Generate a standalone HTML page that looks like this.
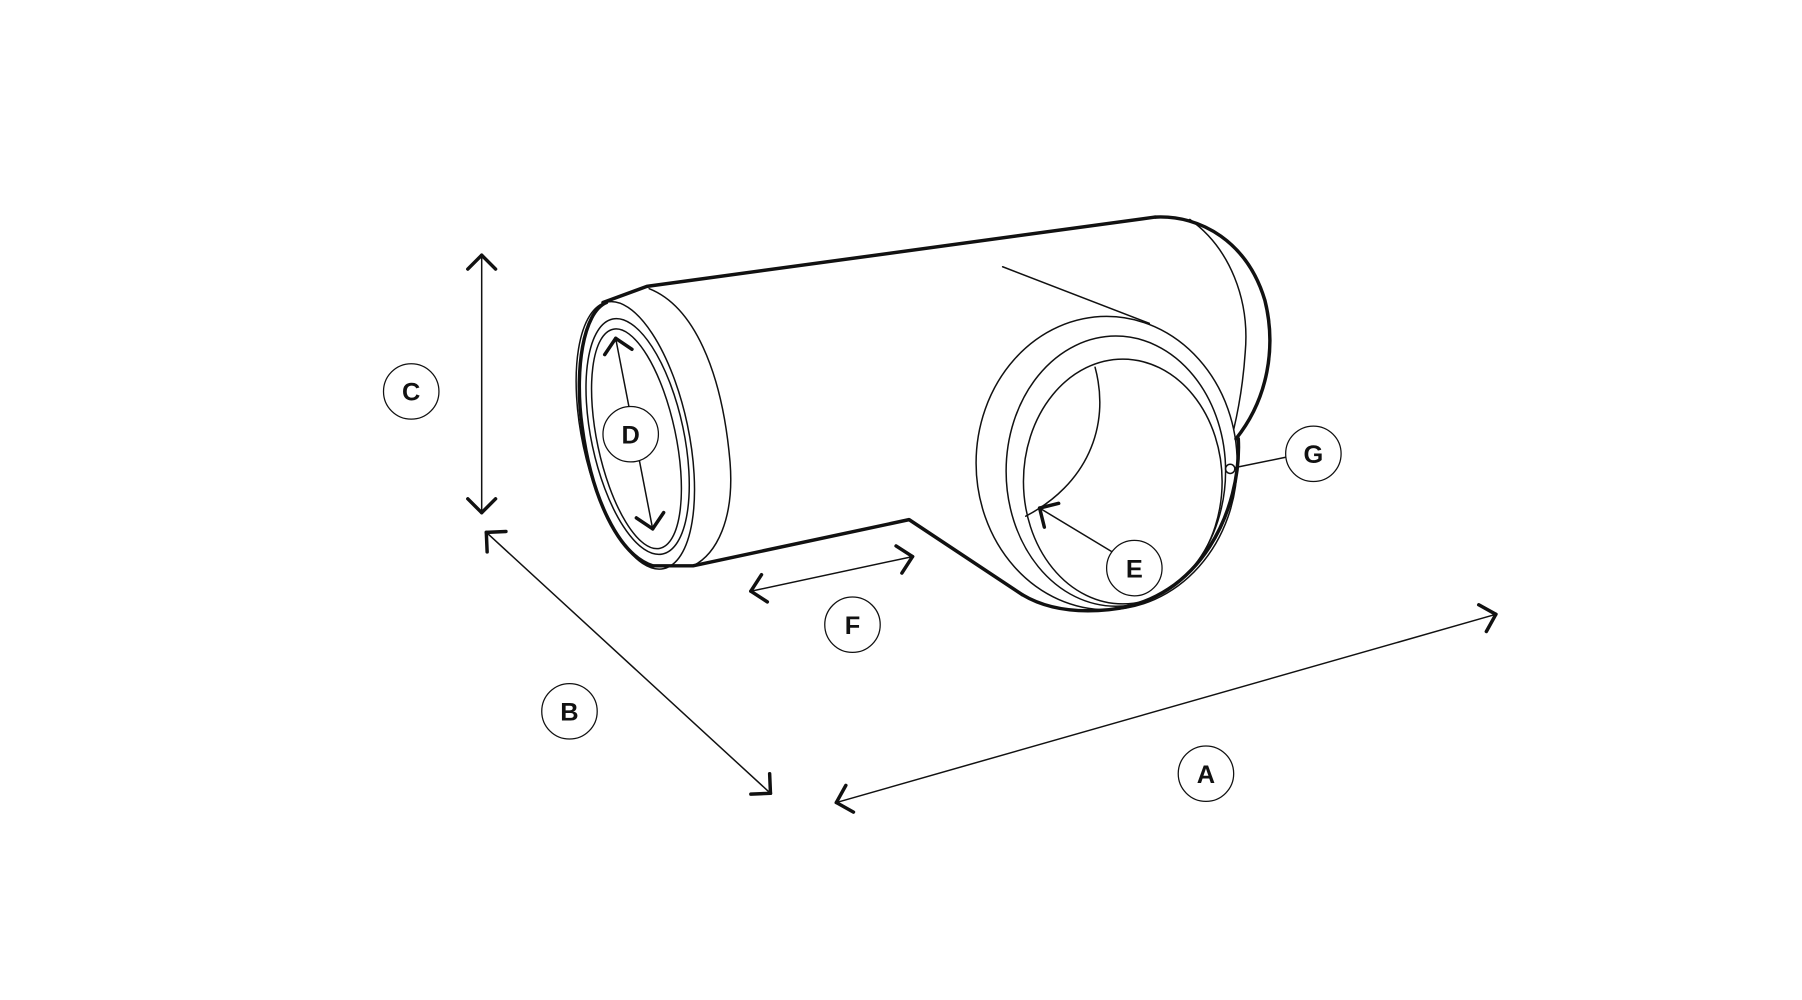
<!DOCTYPE html>
<html><head><meta charset="utf-8"><style>
html,body{margin:0;padding:0;background:#fff;width:1802px;height:1000px;overflow:hidden}
svg{display:block}
text{font-family:"Liberation Sans",sans-serif;font-weight:bold;font-size:22px;text-anchor:middle;dominant-baseline:central;fill:#111}
</style></head><body>
<svg id="s" width="1802" height="1000" viewBox="0 0 1560 866" preserveAspectRatio="none" fill="none" stroke="#111" stroke-linecap="round" stroke-linejoin="round">
<path d="M1000,188 C1040,186 1080,210 1095,260 C1105,300 1098,345 1070,380" stroke-width="3"/>
<path d="M1030,190 C1065,215 1082,260 1078,305 C1076,335 1072,355 1068,372" stroke-width="1.3"/>
<path d="M522,262 L560,248 L1000,188" stroke-width="3"/>
<path d="M565,490 L600,490 L787,450 L885,515" stroke-width="3"/>
<path d="M868,231 L995,280" stroke-width="1.3"/>
<path d="M562,250 C600,265 625,320 632,400 C636,450 620,480 600,490" stroke-width="1.3"/>
<ellipse cx="550" cy="377" rx="46" ry="118" transform="rotate(-12 550 377)" stroke-width="1.3"/>
<path d="M525,262 C505,270 497,320 504,370 C512,430 535,480 565,490" stroke-width="3"/>
<ellipse cx="552" cy="378" rx="40" ry="104" transform="rotate(-12 552 378)" stroke-width="1.3"/>
<ellipse cx="551" cy="380" rx="34" ry="97" transform="rotate(-12 551 380)" stroke-width="1.3"/>
<path d="M885,515 C910,530 940,530 960,528 C1040,520 1075,440 1072,380" stroke-width="3"/>
<ellipse cx="958" cy="401" rx="113" ry="127" stroke-width="1.3"/>
<ellipse cx="966" cy="408" rx="95" ry="117" stroke-width="1.3"/>
<ellipse cx="972" cy="417" rx="86" ry="106" stroke-width="1.3"/>
<path d="M948,318 C962,370 940,420 888,447" stroke-width="1.3"/>
<g id="dims" stroke-width="1.3"></g>
<line x1="1069" y1="405" x2="1113" y2="396" stroke-width="1.3"/>
<circle cx="1065" cy="406" r="4" fill="#fff" stroke-width="1.3"/>
<g fill="#fff" stroke-width="1.1">
<circle cx="356" cy="339" r="24"/><circle cx="493" cy="616" r="24"/><circle cx="1044" cy="670" r="24"/>
<circle cx="738" cy="541" r="24"/><circle cx="546" cy="376" r="24"/><circle cx="982" cy="492" r="24"/><circle cx="1137" cy="393" r="24"/>
</g>
<g stroke="none">
<text x="356" y="340">C</text><text x="493" y="617">B</text><text x="1044" y="671">A</text>
<text x="738" y="542">F</text><text x="546" y="377">D</text><text x="982" y="493">E</text><text x="1137" y="394">G</text>
</g>
</svg>
<script>
var g=document.getElementById('dims'),NS="http://www.w3.org/2000/svg";
function line(x1,y1,x2,y2,w){var l=document.createElementNS(NS,'line');l.setAttribute('x1',x1);l.setAttribute('y1',y1);l.setAttribute('x2',x2);l.setAttribute('y2',y2);if(w)l.setAttribute('stroke-width',w);g.appendChild(l);}
function head(px,py,fx,fy){var dx=px-fx,dy=py-fy,L=Math.hypot(dx,dy);dx/=L;dy/=L;var s=17;
 for(var a of [Math.PI*3/4,-Math.PI*3/4]){var c=Math.cos(a),si=Math.sin(a);line(px,py,px+s*(dx*c-dy*si),py+s*(dx*si+dy*c),3);}}
function dim(x1,y1,x2,y2,b1,b2){line(x1,y1,x2,y2);if(b1!==false)head(x1,y1,x2,y2);if(b2!==false)head(x2,y2,x1,y1);}
dim(417,221,417,444);
dim(421,461,667,687);
dim(724,695,1295,532);
dim(650,512,790,482);
dim(533,293,565,458);
dim(900,440,963,478,true,false);
</script>
</body></html>
